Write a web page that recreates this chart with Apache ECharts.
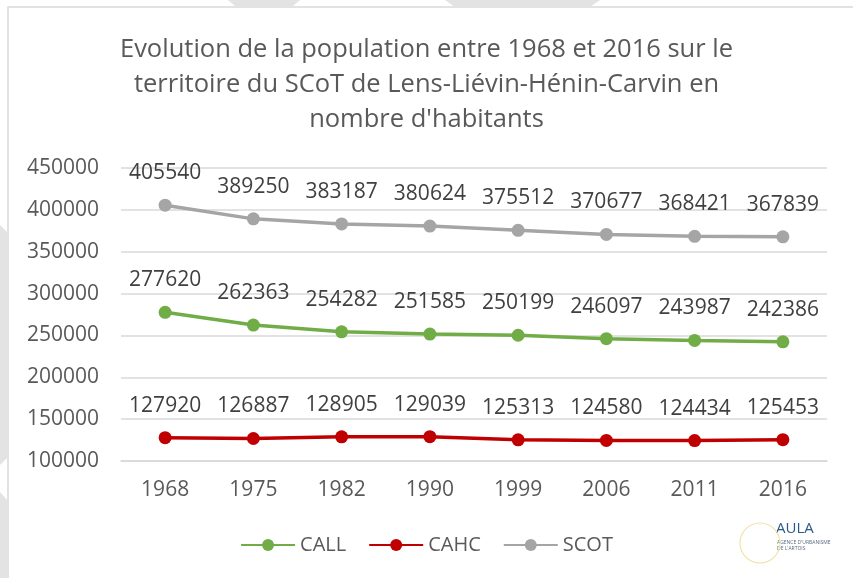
<!DOCTYPE html>
<html>
<head>
<meta charset="utf-8">
<style>
  html, body { margin: 0; padding: 0; background: #ffffff; }
  #chart { width: 853px; height: 578px; }
</style>
<script src="https://cdn.jsdelivr.net/npm/echarts@6/dist/echarts.min.js"></script>
</head>
<body>
<div id="chart"></div>
<script>
// années du recensement
var years = ['1968', '1975', '1982', '1990', '1999', '2006', '2011', '2016'];

// population par territoire
var call = [277620, 262363, 254282, 251585, 250199, 246097, 243987, 242386];
var cahc = [127920, 126887, 128905, 129039, 125313, 124580, 124434, 125453];
var scot = [405540, 389250, 383187, 380624, 375512, 370677, 368421, 367839];

var titleLines = [
    'Evolution de la population entre 1968 et 2016 sur le',
    'territoire du SCoT de Lens-Liévin-Hénin-Carvin en',
    "nombre d'habitants"
];

var chart = echarts.init(document.getElementById('chart'));

var font = '"Open Sans", "Noto Sans", sans-serif';

function lineSerie(name, color, data) {
    return {
        name: name,
        type: 'line',
        data: data,
        symbol: 'circle',
        symbolSize: 13,
        lineStyle: { color: color, width: 3.5 },
        itemStyle: { color: color },
        label: {
            show: true,
            position: 'top',
            distance: 15,
            color: '#404040',
            fontSize: 21,
            fontFamily: font
        }
    };
}

var option = {
    backgroundColor: '#ffffff',
    animation: false,
    title: {
        text: titleLines.join('\n'),
        left: 'center',
        top: 27,
        textStyle: {
            color: '#595959',
            fontSize: 25.5,
            fontWeight: 'normal',
            fontFamily: font,
            lineHeight: 35
        }
    },
    legend: {
        bottom: 18,
        left: 'center',
        itemWidth: 54,
        itemHeight: 15,
        itemGap: 22,
        textStyle: { color: '#595959', fontSize: 20, fontFamily: font },
        data: ['CALL', 'CAHC', 'SCOT']
    },
    grid: {
        left: 121,
        right: 26,
        top: 168,
        bottom: 117
    },
    xAxis: {
        type: 'category',
        data: years,
        axisLine: { lineStyle: { color: '#d9d9d9', width: 1.5 } },
        axisTick: { show: false },
        axisLabel: { color: '#595959', fontSize: 21, fontFamily: font, margin: 19 }
    },
    yAxis: {
        type: 'value',
        min: 100000,
        max: 450000,
        interval: 50000,
        axisLine: { show: false },
        axisTick: { show: false },
        axisLabel: {
            color: '#595959',
            fontSize: 21,
            fontFamily: font,
            margin: 22,
            formatter: function (v) { return String(v); }
        },
        splitLine: { lineStyle: { color: '#d9d9d9', width: 1.5 } }
    },
    graphic: [
        // cadre du graphique
        {
            type: 'rect',
            shape: { x: 8, y: 7, width: 860, height: 590 },
            style: { fill: 'none', stroke: '#d9d9d9', lineWidth: 1.5 },
            silent: true
        },
        // filigrane gris
        {
            type: 'polygon',
            shape: { points: [[228, 0], [300, 0], [292, 7], [236, 7]] },
            style: { fill: '#e3e3e3' },
            silent: true
        },
        {
            type: 'polygon',
            shape: { points: [[445, 0], [600, 0], [590, 7], [455, 7]] },
            style: { fill: '#e3e3e3' },
            silent: true
        },
        {
            type: 'polygon',
            shape: { points: [[0, 225], [7, 232], [7, 578], [0, 578]] },
            style: { fill: '#e3e3e3' },
            silent: true
        },
        {
            type: 'polygon',
            shape: { points: [[0, 465], [7, 458], [7, 500], [0, 492]] },
            style: { fill: '#ffffff' },
            silent: true
        },
        // logo AULA
        {
            type: 'text',
            left: 776,
            top: 521,
            style: { text: 'AULA', fill: '#2a5a8a', fontSize: 15, fontFamily: font, letterSpacing: 2 },
            silent: true
        },
        {
            type: 'text',
            left: 777,
            top: 540,
            style: { text: 'AGENCE D\'URBANISME\nDE L\'ARTOIS', fill: '#5a6a80', fontSize: 5, fontFamily: font, lineHeight: 6 },
            silent: true
        },
        {
            type: 'circle',
            shape: { cx: 760, cy: 543, r: 20 },
            style: { fill: 'none', stroke: '#f2e2a8', lineWidth: 1.2 },
            silent: true
        }
    ],
    series: [
        lineSerie('CALL', '#70ad47', call),
        lineSerie('CAHC', '#c00000', cahc),
        lineSerie('SCOT', '#a5a5a5', scot)
    ]
};

chart.setOption(option);
</script>
</body>
</html>
